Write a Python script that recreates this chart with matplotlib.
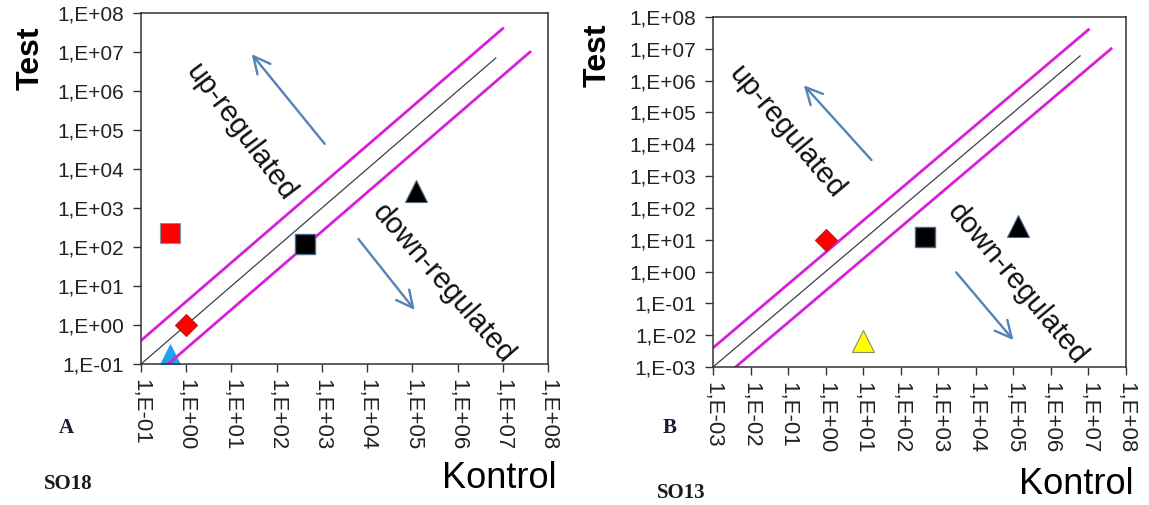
import numpy as np
import matplotlib
matplotlib.use("Agg")
import matplotlib.pyplot as plt
from matplotlib.ticker import FixedLocator, FuncFormatter

W, H = 1149, 505
plt.rcParams['font.family'] = ['Liberation Sans', 'DejaVu Sans']

# ---- data -------------------------------------------------------------
fold = 4.0  # threshold band around the identity line

# Panel A (SO18)
a_xlim = (1e-1, 1e8)
a_diag_x = [1e-1, 7e6]
a_upper_x = [1e-1, 1e7]
a_lower_x = [4e-1, 4e7]
a_points = {
    "red_square":     (0.44, 230.0),
    "red_diamond":    (1.0, 1.0),
    "cyan_triangle":  (0.44, 0.17),
    "black_square":   (420.0, 120.0),
    "black_triangle": (1.2e5, 2800.0),
}

# Panel B (SO13)
b_xlim = (1e-3, 1e8)
b_diag_x = [1e-3, 6e6]
b_upper_x = [1e-3, 1e7]
b_lower_x = [4e-3, 4e7]
b_points = {
    "red_diamond":     (1.0, 10.0),
    "yellow_triangle": (10.0, 0.0066),
    "black_square":    (430.0, 12.0),
    "black_triangle":  (1.3e5, 27.0),
}

styles = {
    "red_square":      dict(marker='s', ms=15, mfc='#FF0000', mec='#8A8FA8', mew=0.8, zorder=4),
    "red_diamond":     dict(marker='D', ms=11, mfc='#FF0000', mec='#B02020', mew=0.8, zorder=4),
    "cyan_triangle":   dict(marker='^', ms=16, mfc='#1FA3E8', mec='#1FA3E8', mew=0.5, zorder=1),
    "black_square":    dict(marker='s', ms=15, mfc='#000000', mec='#4A6A8A', mew=1.0, zorder=4),
    "black_triangle":  dict(marker='^', ms=16, mfc='#000000', mec='#4A6A8A', mew=0.8, zorder=4),
    "yellow_triangle": dict(marker='^', ms=16, mfc='#FFFF00', mec='#8C8C6A', mew=0.8, zorder=4),
}

MAGENTA = '#D81FD8'
ARROW = '#5582B8'


def fmt(v, pos):
    e = int(round(np.log10(v)))
    return "1,E{:+03d}".format(e)


def px_axes(fig, left, top, right, bottom):
    return fig.add_axes([left / W, 1 - bottom / H, (right - left) / W, (bottom - top) / H])


def draw_panel(ax, lim, diag_x, upper_x, lower_x, points):
    ax.set_xscale('log')
    ax.set_yscale('log')
    ax.set_xlim(*lim)
    ax.set_ylim(*lim)
    exps = np.arange(int(np.log10(lim[0])), int(np.log10(lim[1])) + 1)
    ticks = [10.0 ** e for e in exps]
    for axis in (ax.xaxis, ax.yaxis):
        axis.set_major_locator(FixedLocator(ticks))
        axis.set_major_formatter(FuncFormatter(fmt))
        axis.set_minor_locator(FixedLocator([]))
    ax.tick_params(axis='both', which='major', direction='out', length=6,
                   width=1.0, color='#333333', labelsize=15, labelcolor='#222222')
    ax.tick_params(axis='y', pad=6)
    ax.tick_params(axis='x', pad=5)
    for lab in ax.get_xticklabels():
        lab.set_rotation(-90)
        lab.set_ha('center')
        lab.set_va('top')
        lab.set_fontsize(16)
    for sp in ax.spines.values():
        sp.set_color('#333333')
        sp.set_linewidth(1.1)

    dx = np.array(diag_x)
    ux = np.array(upper_x)
    lx = np.array(lower_x)
    ax.plot(dx, dx, color='#404040', lw=0.9, zorder=2)
    ax.plot(ux, ux * fold, color=MAGENTA, lw=2.0, zorder=2)
    ax.plot(lx, lx / fold, color=MAGENTA, lw=2.0, zorder=2)

    for name, (x, y) in points.items():
        st = dict(styles[name])
        z = st.pop('zorder')
        ax.plot([x], [y], linestyle='none', zorder=z, **st)


fig = plt.figure(figsize=(W / 100, H / 100), dpi=100)

axA = px_axes(fig, 141, 13, 548, 364)
draw_panel(axA, a_xlim, a_diag_x, a_upper_x, a_lower_x, a_points)
axB = px_axes(fig, 713, 17, 1126, 367)
draw_panel(axB, b_xlim, b_diag_x, b_upper_x, b_lower_x, b_points)

# direction arrows (log-space positions)
arrow_kw = dict(arrowstyle='->', color=ARROW, lw=1.7, mutation_scale=30)
axA.annotate('', xy=(10 ** 1.41, 10 ** 7.0), xytext=(10 ** 3.1, 10 ** 4.59),
             arrowprops=arrow_kw, annotation_clip=False)
axA.annotate('', xy=(10 ** 5.09, 10 ** 0.33), xytext=(10 ** 3.77, 10 ** 2.26),
             arrowprops=arrow_kw, annotation_clip=False)
axB.annotate('', xy=(10 ** -0.63, 10 ** 5.92), xytext=(10 ** 1.27, 10 ** 3.44),
             arrowprops=arrow_kw, annotation_clip=False)
axB.annotate('', xy=(10 ** 5.05, 10 ** -2.22), xytext=(10 ** 3.43, 10 ** 0.04),
             arrowprops=arrow_kw, annotation_clip=False)


def ftext(x, y, s, **kw):
    fig.text(x / W, 1 - y / H, s, ha='center', va='center', **kw)


# region labels
ftext(241, 132, 'up-regulated', rotation=-53, fontsize=21, color='#111111')
ftext(443, 284, 'down-regulated', rotation=-49, fontsize=21, color='#111111')
ftext(786, 132, 'up-regulated', rotation=-50, fontsize=21, color='#111111')
ftext(1017, 284, 'down-regulated', rotation=-50, fontsize=21, color='#111111')

# axis titles
ftext(31, 58, 'Test', rotation=90, fontsize=23, fontweight='bold', color='#000000')
ftext(598, 55, 'Test', rotation=90, fontsize=23, fontweight='bold', color='#000000')
ftext(499, 479, 'Kontrol', fontsize=26, color='#000000')
ftext(1076, 484, 'Kontrol', fontsize=26, color='#000000')

# panel tags
serif = ['Liberation Serif', 'DejaVu Serif']
ftext(66, 428, 'A', fontsize=15, fontweight='bold', family=serif, color='#1a1a33')
ftext(68, 484, 'SO18', fontsize=15, fontweight='bold', family=serif, color='#1a1a1a')
ftext(670, 428, 'B', fontsize=15, fontweight='bold', family=serif, color='#1a1a33')
ftext(681, 493, 'SO13', fontsize=15, fontweight='bold', family=serif, color='#1a1a1a')

fig.savefig('out.png', dpi=100)
